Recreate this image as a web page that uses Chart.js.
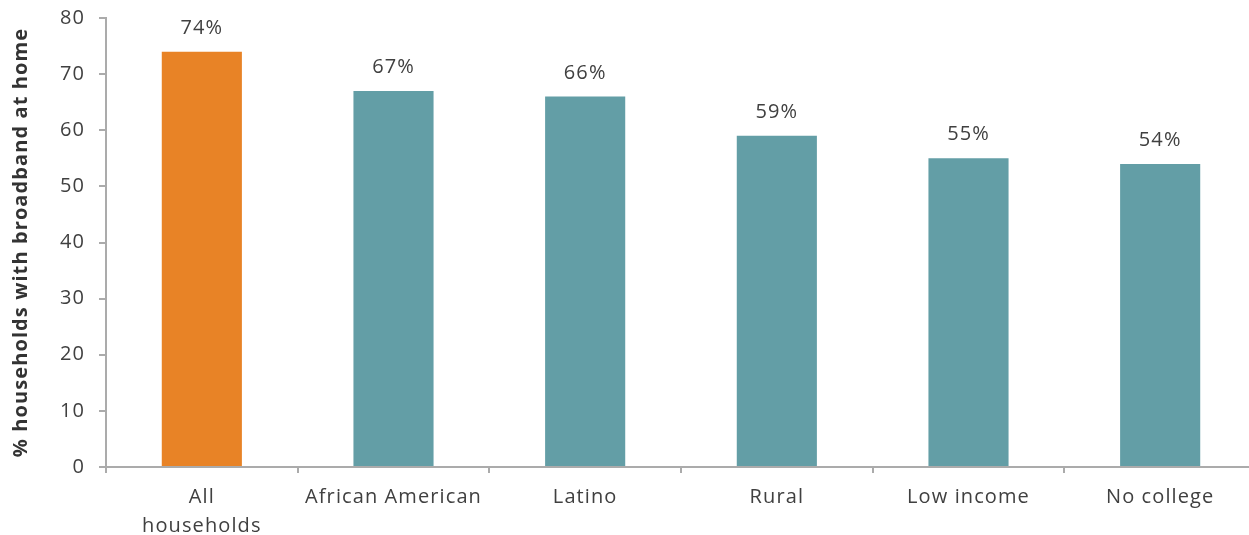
<!DOCTYPE html>
<html>
<head>
<meta charset="utf-8">
<script src="https://cdn.jsdelivr.net/npm/chart.js@4"></script>
<style>
  html, body { margin: 0; padding: 0; background: #fff; overflow: hidden; }
  #wrap { width: 1256px; height: 535px; position: relative; }
</style>
</head>
<body>
<div id="wrap"><canvas id="myChart"></canvas></div>
<script>
// broadband adoption by group
const categories = [["All", "households"], "African American", "Latino", "Rural", "Low income", "No college"];
const shares = [74, 67, 66, 59, 55, 54];
const barColors = ["#E88326", "#639EA6", "#639EA6", "#639EA6", "#639EA6", "#639EA6"];
const yTicks = [0, 10, 20, 30, 40, 50, 60, 70, 80];

const FONT = "'Open Sans', Lato, sans-serif";
const TEXT = "#404040";
const AXIS = "#ababab";

// slightly wider tracking for all text on the canvas
const tracking = {
  id: "tracking",
  beforeDraw(chart) { chart.ctx.letterSpacing = "1.1px"; }
};

// percent labels above each bar
const barLabels = {
  id: "barLabels",
  afterDatasetsDraw(chart) {
    const ctx = chart.ctx;
    const meta = chart.getDatasetMeta(0);
    ctx.save();
    ctx.font = "20px " + FONT;
    ctx.fillStyle = TEXT;
    ctx.textAlign = "center";
    ctx.textBaseline = "alphabetic";
    meta.data.forEach((bar, i) => {
      ctx.fillText(shares[i] + "%", bar.x, bar.y - 18);
    });
    ctx.restore();
  }
};

new Chart(document.getElementById("myChart").getContext("2d"), {
  type: "bar",
  data: {
    labels: categories,
    datasets: [{
      data: shares,
      backgroundColor: barColors,
      borderWidth: 0,
      categoryPercentage: 1,
      barPercentage: 0.418
    }]
  },
  options: {
    responsive: true,
    maintainAspectRatio: false,
    animation: false,
    layout: { padding: { top: 18, right: 0, left: 0, bottom: 0 } },
    plugins: {
      legend: { display: false },
      tooltip: { enabled: false }
    },
    scales: {
      x: {
        grid: { drawOnChartArea: false, drawTicks: true, tickLength: 6, color: AXIS, lineWidth: 2 },
        border: { color: AXIS, width: 2 },
        ticks: { color: TEXT, font: { family: FONT, size: 20, lineHeight: 1.45 }, padding: 10, maxRotation: 0, autoSkip: false },
        afterFit(scale) { scale.height = 68; scale.paddingLeft = 0; scale.paddingRight = 0; }
      },
      y: {
        min: 0,
        max: 80,
        afterBuildTicks(scale) { scale.ticks = yTicks.map(v => ({ value: v })); },
        grid: { drawOnChartArea: false, drawTicks: true, tickLength: 7, color: AXIS, lineWidth: 2 },
        border: { color: AXIS, width: 2 },
        ticks: { color: TEXT, font: { family: FONT, size: 20 }, padding: 14 },
        title: {
          display: true,
          text: "% households with broadband at home",
          color: "#333",
          font: { family: FONT, size: 20, weight: "bold", lineHeight: 1.2 },
          padding: { top: 9, bottom: 0 }
        },
        afterFit(scale) { scale.width = 106; scale.paddingTop = 0; scale.paddingBottom = 0; }
      }
    }
  },
  plugins: [tracking, barLabels]
});
</script>
</body>
</html>
